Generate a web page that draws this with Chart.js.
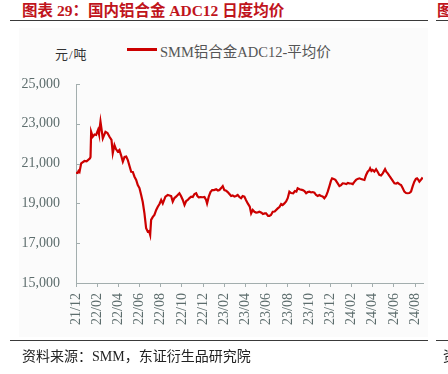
<!DOCTYPE html>
<html>
<head>
<meta charset="utf-8">
<script src="https://cdn.jsdelivr.net/npm/chart.js@4.4.1/dist/chart.umd.min.js"></script>
<style>
  html, body { margin: 0; padding: 0; background: #fff; }
  body { width: 448px; height: 374px; position: relative; overflow: hidden; font-family: 'Liberation Serif', 'Noto Sans CJK SC', serif; }
  .abs { position: absolute; white-space: nowrap; }
  #title { left: 22px; top: -2px; font-size: 15.5px; font-weight: bold; color: #c0141c; }
  #nextTitle { left: 437px; top: -2px; font-size: 15.5px; font-weight: bold; color: #c0141c; }
  .rule { position: absolute; height: 1px; background: #3a3a3a; }
  #panel { left: 19px; top: 28px; width: 409px; height: 309px; background: #fbfbfb; }
  #unit { left: 55px; top: 44px; font-size: 13px; color: #333; letter-spacing: 1px; }
  #legendLine { left: 127px; top: 48px; width: 30px; height: 2.5px; background: #cc0000; }
  #legendText { left: 160px; top: 40px; font-size: 14.5px; color: #555; }
  #source { left: 22px; top: 345px; font-size: 14px; color: #222; }
  #nextSource { left: 443px; top: 345px; font-size: 14px; color: #222; }
  canvas { position: absolute; left: 0; top: 0; }
</style>
</head>
<body>
<div id="panel" class="abs"></div>
<div id="title" class="abs">图表 29：国内铝合金 ADC12 日度均价</div>
<div id="nextTitle" class="abs">图</div>
<div class="rule" style="left:10px; top:20px; width:418px;"></div>
<div class="rule" style="left:436px; top:20px; width:12px;"></div>
<div id="unit" class="abs">元/吨</div>
<div id="legendLine" class="abs"></div>
<div id="legendText" class="abs">SMM铝合金ADC12-平均价</div>
<canvas id="chart" width="448" height="374"></canvas>
<div class="rule" style="left:10px; top:340px; width:418px;"></div>
<div class="rule" style="left:436px; top:340px; width:12px;"></div>
<div id="source" class="abs">资料来源：SMM，东证衍生品研究院</div>
<div id="nextSource" class="abs">资</div>

<script>
// x positions: months since 2021-12-01
const monthOffset = [
  0, 0.15, 0.24, 0.33, 0.49, 0.8, 1.0, 1.32, 1.37, 1.43, 1.58, 1.75, 1.9, 2.08, 2.17, 2.31, 2.53, 2.78, 2.97, 3.16,
  3.35, 3.47, 3.63, 3.77, 3.94, 4.1, 4.25, 4.42, 4.58, 4.74, 4.89, 5.05, 5.21, 5.36, 5.52, 5.68, 5.83, 5.99, 6.15, 6.3,
  6.46, 6.62, 6.77, 6.89, 7.0, 7.09, 7.25, 7.4, 7.57, 7.72, 7.88, 8.04, 8.19, 8.44, 8.66, 8.82, 8.98, 9.13, 9.29, 9.45,
  9.6, 9.76, 9.91, 10.08, 10.24, 10.4, 10.55, 10.71, 10.87, 11.02, 11.18, 11.34, 11.46, 11.58, 11.75, 11.96, 12.12, 12.28, 12.37, 12.53,
  12.69, 12.85, 13.02, 13.23, 13.4, 13.54, 13.7, 13.85, 14.0, 14.17, 14.32, 14.48, 14.64, 14.79, 14.95, 15.11, 15.26, 15.42, 15.58, 15.73,
  15.89, 16.04, 16.21, 16.4, 16.53, 16.68, 16.84, 17.0, 17.15, 17.31, 17.5, 17.64, 17.81, 17.94, 18.13, 18.25, 18.4, 18.57, 18.75, 19.04,
  19.2, 19.36, 19.5, 19.67, 19.83, 19.98, 20.14, 20.3, 20.5, 20.66, 20.8, 20.92, 21.1, 21.4, 21.56, 21.72, 21.87, 22.03, 22.19, 22.34,
  22.5, 22.66, 22.81, 22.97, 23.13, 23.28, 23.44, 23.6, 23.76, 23.92, 24.06, 24.17, 24.32, 24.48, 24.67, 24.86, 25.02, 25.17, 25.33, 25.52,
  25.66, 25.8, 25.96, 26.12, 26.27, 26.43, 26.58, 26.75, 26.9, 27.06, 27.22, 27.38, 27.53, 27.69, 27.76, 27.88, 28.0, 28.16, 28.32, 28.48,
  28.63, 28.79, 28.95, 29.17, 29.3, 29.42, 29.58, 29.74, 29.9, 30.05, 30.21, 30.36, 30.52, 30.68, 30.83, 30.99, 31.15, 31.3, 31.46, 31.62,
  31.78, 31.93, 32.08, 32.19, 32.31, 32.41, 32.55, 32.72
];

// SMM ADC12 average price, yuan/ton
const price = [
  20540, 20530, 20630, 20580, 21010, 21130, 21110, 21270, 21330, 22600, 22350, 22460, 22440, 22690, 22490, 23110, 22270, 22600, 22540, 22350,
  22190, 21520, 21930, 21730, 21600, 21680, 21430, 21100, 21330, 21350, 21180, 20880, 20590, 20580, 20340, 20180, 19920, 19770, 19420, 19070,
  18500, 17750, 17580, 17610, 17410, 18170, 18320, 18420, 18670, 18830, 18970, 19170, 19000, 19340, 19420, 19400, 19370, 19090, 19270, 19340,
  19420, 19510, 19370, 19170, 18920, 19120, 19170, 19270, 19340, 19320, 19470, 19510, 19370, 19310, 19320, 19310, 19320, 19170, 19000, 19340,
  19570, 19670, 19670, 19710, 19650, 19670, 19770, 19870, 19670, 19640, 19570, 19470, 19370, 19400, 19340, 19370, 19420, 19320, 19260, 19370,
  19340, 19170, 19000, 18840, 18500, 18670, 18580, 18540, 18550, 18580, 18530, 18470, 18500, 18500, 18370, 18370, 18420, 18580, 18590, 18750,
  18820, 18970, 18920, 19000, 19100, 19260, 19590, 19520, 19510, 19620, 19590, 19760, 19710, 19670, 19620, 19510, 19570, 19590, 19550, 19570,
  19540, 19420, 19370, 19420, 19370, 19350, 19260, 19370, 19590, 19870, 20130, 20260, 20230, 20180, 20030, 19870, 19920, 20010, 20000, 19970,
  20030, 20010, 20000, 19970, 20080, 20180, 20230, 20260, 20230, 20200, 20180, 20430, 20590, 20680, 20760, 20630, 20680, 20600, 20720, 20580,
  20430, 20400, 20510, 20720, 20580, 20510, 20380, 20260, 20130, 20010, 20000, 20040, 19970, 19920, 19770, 19590, 19520, 19510, 19520, 19590,
  19870, 20090, 20230, 20260, 20180, 20090, 20180, 20300
];

// one label every two months
const tickLabels = ['21/12', '22/02', '22/04', '22/06', '22/08', '22/10', '22/12', '23/02', '23/04',
  '23/06', '23/08', '23/10', '23/12', '24/02', '24/04', '24/06', '24/08'];
const yTicks = [15000, 17000, 19000, 21000, 23000, 25000];

const axisColor = '#a3aeae';
const labelColor = '#5d6d6d';
const tickFont = { family: "'Liberation Serif', serif", size: 14 };

// small tick marks pointing into the plot on the y axis
const innerYTicks = {
  id: 'innerYTicks',
  afterDraw(chart) {
    const y = chart.scales.y;
    const ctx = chart.ctx;
    ctx.save();
    ctx.strokeStyle = axisColor;
    ctx.lineWidth = 1;
    y.ticks.forEach(t => {
      const py = Math.round(y.getPixelForValue(t.value)) + 0.5;
      ctx.beginPath();
      ctx.moveTo(y.right, py);
      ctx.lineTo(y.right + 4, py);
      ctx.stroke();
    });
    ctx.restore();
  }
};

new Chart(document.getElementById('chart'), {
  type: 'line',
  data: {
    datasets: [{
      label: 'SMM铝合金ADC12-平均价',
      data: monthOffset.map((m, i) => ({ x: m, y: price[i] })),
      borderColor: '#cc0000',
      borderWidth: 2.2,
      pointRadius: 0,
      tension: 0,
      fill: false
    }]
  },
  options: {
    responsive: false,
    animation: false,
    devicePixelRatio: 1,
    layout: { padding: { top: 84, right: 25, left: 0, bottom: 0 } },
    plugins: { legend: { display: false }, tooltip: { enabled: false } },
    scales: {
      x: {
        type: 'linear',
        min: 0,
        max: 32.75,
        afterBuildTicks: (scale) => {
          scale.ticks = tickLabels.map((_, i) => ({ value: i * 2 }));
        },
        afterFit: (scale) => { scale.height = 374 - 283; },
        grid: { drawOnChartArea: false, drawTicks: true, tickLength: 4, color: axisColor },
        border: { color: axisColor, width: 1 },
        ticks: {
          autoSkip: false,
          minRotation: 90,
          maxRotation: 90,
          padding: 6,
          color: labelColor,
          font: tickFont,
          callback: (v, i) => tickLabels[i]
        }
      },
      y: {
        min: 15000,
        max: 25000,
        afterBuildTicks: (scale) => {
          scale.ticks = yTicks.map(v => ({ value: v }));
        },
        afterFit: (scale) => { scale.width = 76; },
        grid: { drawOnChartArea: false, drawTicks: false },
        border: { color: axisColor, width: 1 },
        ticks: {
          padding: 16,
          color: labelColor,
          font: tickFont,
          callback: (v) => v.toLocaleString('en-US')
        }
      }
    }
  },
  plugins: [innerYTicks]
});
</script>
</body>
</html>
